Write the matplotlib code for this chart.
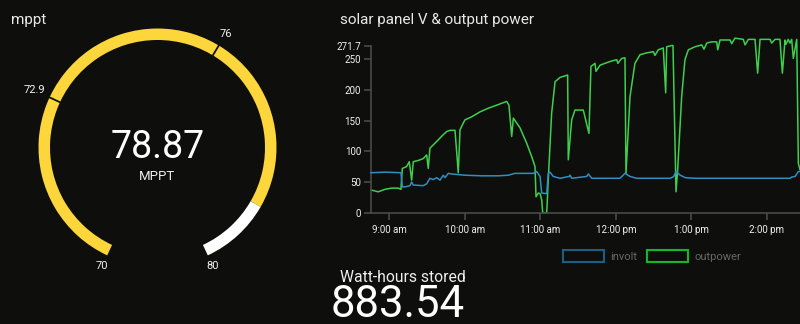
import numpy as np
import matplotlib
matplotlib.use("Agg")
import matplotlib.pyplot as plt
from matplotlib.patches import Wedge, Patch

plt.rcParams['font.family'] = ['Roboto', 'DejaVu Sans']

# gauge data
g_min = 70
g_max = 80
g_value = 78.87
g_marks = [72.9, 76]
stored_wh = 883.54

# minutes after 9:00 am and values
volt_t = [-14.3, -3.2, 9.5, 10.6, 12.7, 16.7, 18.0, 19.3, 27.2, 29.9, 32.5, 35.2,
          37.9, 40.5, 43.1, 44.4, 47.1, 49.8, 60.3, 73.6, 86.8, 94.7, 100.0, 114.5,
          117.2, 119.9, 121.2, 125.2, 126.4, 127.8, 130.4, 135.7, 143.1, 143.7, 145.0,
          156.9, 158.2, 160.9, 183.4, 187.3, 191.3, 196.6, 223.3, 226.0, 227.8, 231.2,
          235.2, 242.9, 286.5, 318.3, 319.6, 322.3, 324.9, 326.2]
volt_v = [65, 66, 65, 42, 42, 44, 50, 45, 44, 47, 56, 54,
          57, 53, 61, 57, 64, 63, 61, 60, 60, 61, 64, 64,
          67, 59, 32, 31, 64, 66, 59, 56, 59, 61, 56,
          59, 63, 56, 56, 64, 59, 56, 56, 59, 67, 61,
          57, 56, 56, 56, 58, 59, 67, 67]

power_t = [-14.3, -8.5, -3.2, 2.1, 7.4, 9.5, 10.6, 14.0, 16.1, 18.0, 19.3, 23.3,
           27.2, 29.9, 31.2, 32.5, 37.9, 43.1, 45.8, 48.4, 52.4, 55.0, 56.4, 59.0,
           60.3, 65.6, 72.2, 78.8, 85.5, 90.7, 93.4, 95.2, 97.4, 98.7, 104.0, 109.3,
           113.3, 115.9, 116.7, 118.5, 119.9, 121.2, 122.0, 125.2, 126.4, 129.1, 131.8,
           135.7, 141.8, 142.3, 145.0, 147.6, 154.2, 158.7, 160.3, 163.5, 164.3, 167.5,
           171.4, 175.5, 180.8, 181.6, 184.7, 187.3, 188.1, 191.3, 195.2, 199.2, 204.5,
           209.8, 211.1, 213.7, 217.7, 219.6, 220.4, 224.4, 225.4, 227.8, 229.1, 232.3,
           234.9, 237.6, 242.9, 248.2, 250.0, 252.2, 256.1, 260.1, 260.9, 262.7, 270.7,
           272.0, 274.6, 281.2, 282.6, 285.2, 290.5, 292.6, 294.5, 302.4, 303.7, 306.4,
           310.3, 312.2, 314.3, 315.1, 316.9, 318.3, 319.6, 320.9, 323.6, 324.9, 326.2]
power_v = [37, 34, 38, 40, 40, 38, 72, 75, 83, 53, 83, 85,
           88, 94, 72, 105, 116, 127, 132, 134, 134, 65, 135, 146,
           151, 156, 164, 170, 175, 179, 181, 175, 124, 154, 138, 113,
           91, 75, 26, 32, 31, 21, 0, 0, 53, 162, 213,
           220, 224, 86, 151, 167, 167, 129, 238, 243, 230, 240,
           243, 246, 249, 243, 251, 252, 64, 189, 243, 257, 260,
           262, 256, 265, 268, 195, 270, 272, 272, 34, 70, 189,
           249, 265, 270, 273, 266, 276, 278, 278, 265, 281, 281,
           275, 284, 282, 273, 282, 282, 227, 282, 282, 276, 282,
           282, 227, 281, 274, 282, 276, 282, 251, 282, 80, 70]

y_ticks = [0, 50, 100, 150, 200, 250, 271.7]
y_labels = ['0', '50', '100', '150', '200', '250', '271.7']
x_ticks = [0, 60, 120, 180, 240, 300]
x_labels = ['9:00 am', '10:00 am', '11:00 am', '12:00 pm', '1:00 pm', '2:00 pm']

bg = '#0e0e0d'
W, H = 800, 324
fig = plt.figure(figsize=(8, 3.24), dpi=100, facecolor=bg)

def fx(x):
    return x / W

def fy(y):
    return 1 - y / H

# ---- gauge ----
gax = fig.add_axes([0, 0, 300 / W, 1])
gax.set_xlim(0, 300)
gax.set_ylim(0, 324)
gax.axis('off')
cx, cy = 157.5, 324 - 147.5
r_out, band = 119, 11.5
a_start, sweep = 245, 310

def ang(v):
    return a_start - (v - g_min) / (g_max - g_min) * sweep

gax.add_patch(Wedge((cx, cy), r_out, ang(g_value), ang(g_min), width=band,
                    facecolor='#fdd63b', edgecolor='none'))
gax.add_patch(Wedge((cx, cy), r_out, ang(g_max), ang(g_value), width=band,
                    facecolor='#ffffff', edgecolor='none'))
for m in g_marks:
    a = np.radians(ang(m))
    gax.plot([cx + (r_out - band - 1) * np.cos(a), cx + (r_out + 1) * np.cos(a)],
             [cy + (r_out - band - 1) * np.sin(a), cy + (r_out + 1) * np.sin(a)],
             color='#111111', lw=1.3)
for m, rr in [(g_min, 131), (g_max, 131), (g_marks[0], 136), (g_marks[1], 132)]:
    a = np.radians(ang(m))
    gax.text(cx + rr * np.cos(a), cy + rr * np.sin(a), f'{m:g}', color='#f2f2f2',
             fontsize=8, ha='center', va='center')
gax.text(cx, cy + 0.5, f'{g_value:.2f}', color='#ffffff', fontsize=27,
         fontweight='normal', ha='center', va='center')
gax.text(cx, cy - 28.5, 'MPPT', color='#eeeeee', fontsize=9.5, ha='center', va='center')

fig.text(fx(11), fy(20), 'mppt', color='#e8e8e8', fontsize=11, ha='left', va='center')
fig.text(fx(340), fy(20), 'solar panel V & output power', color='#e8e8e8',
         fontsize=11, ha='left', va='center')
fig.text(fx(340.5), fy(282.5), 'Watt-hours stored', color='#eeeeee', fontsize=11.3,
         ha='left', va='baseline')
fig.text(fx(331), fy(316.7), f'{stored_wh:.2f}', color='#ffffff', fontsize=31.5,
         ha='left', va='baseline')

# ---- line chart ----
ax = fig.add_axes([fx(370.7), fy(212.7), (W - 370.7) / W, (212.7 - 45.7) / H])
ax.set_facecolor(bg)
ax.plot(volt_t, volt_v, color='#2f8fc0', lw=1.1, clip_on=False, zorder=3)
ax.plot(power_t, power_v, color='#3fcf4c', lw=1.1, clip_on=False, zorder=2)
ax.set_xlim(-14.5, 326.2)
ax.set_ylim(0, 271.7)
ax.set_yticks(y_ticks)
ax.set_yticklabels(y_labels)
ax.set_xticks(x_ticks)
ax.set_xticklabels(x_labels)
for s in ['top', 'right']:
    ax.spines[s].set_visible(False)
for s in ['left', 'bottom']:
    ax.spines[s].set_color('#4a4a4a')
    ax.spines[s].set_linewidth(1.2)
ax.tick_params(colors='#4a4a4a', labelcolor='#f0f0f0', labelsize=7, length=5,
               width=1.2)
ax.tick_params(axis='x', pad=4)
ax.tick_params(axis='y', pad=2)

handles = [Patch(facecolor='none', edgecolor='#1d5f80', lw=1.5, label='involt'),
           Patch(facecolor='none', edgecolor='#12b82a', lw=1.5, label='outpower')]
leg = fig.legend(handles=handles, loc='center', bbox_to_anchor=(fx(652), fy(256)),
                 ncol=2, frameon=False, fontsize=8, handlelength=3.7,
                 handleheight=1.2, handletextpad=0.55, columnspacing=0.9)
for t in leg.get_texts():
    t.set_color('#666666')

fig.savefig('out.png', dpi=100, facecolor=bg)
